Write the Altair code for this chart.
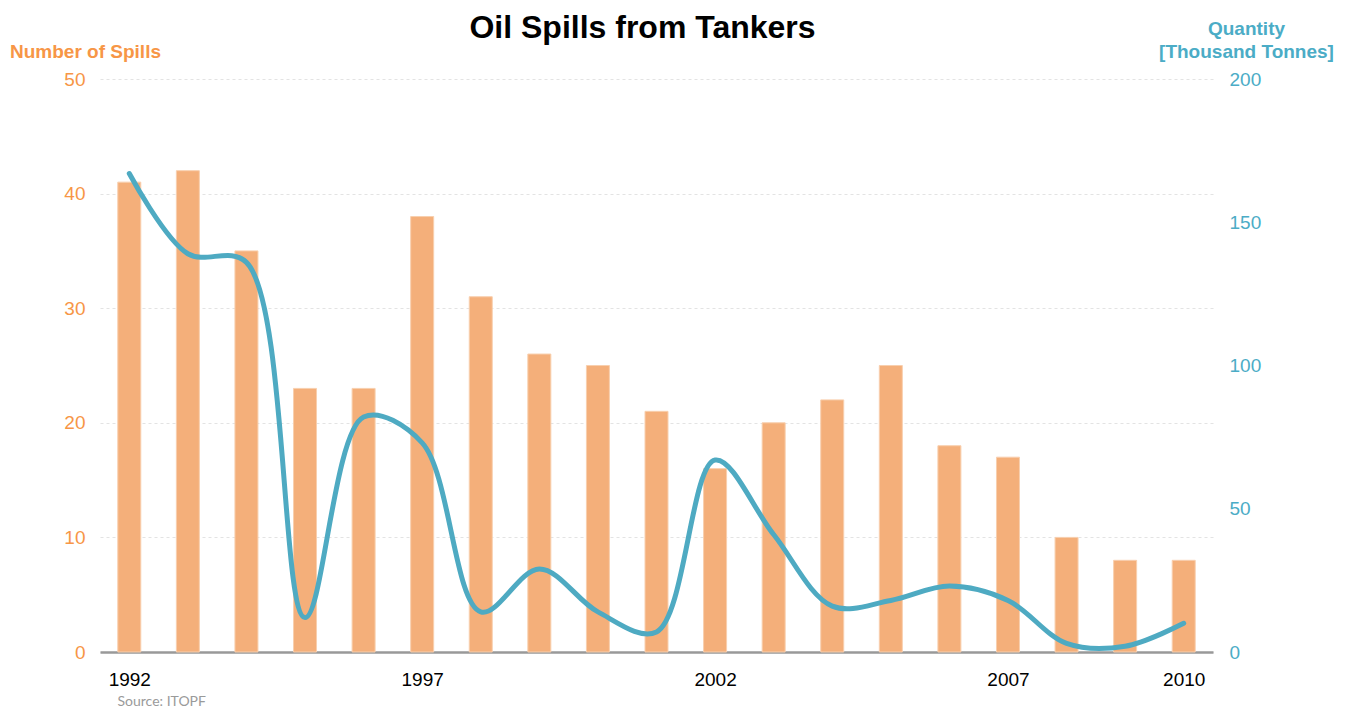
import altair as alt
import pandas as pd

years = list(range(1992, 2011))
spills = [41, 42, 35, 23, 23, 38, 31, 26, 25, 21, 16, 20, 22, 25, 18, 17, 10, 8, 8]
quantity = [167, 139, 136, 12, 82, 73, 14, 29, 14, 7, 67, 41, 16, 18, 23, 18, 3, 2, 10]
year_ticks = [1992, 1997, 2002, 2007, 2010]
spill_ticks = [0, 10, 20, 30, 40, 50]
qty_ticks = [0, 50, 100, 150, 200]

df = pd.DataFrame({"year": years, "spills": spills, "quantity": quantity})

ORANGE = "#f79646"
TEAL = "#4bacc6"
FONT = "Liberation Sans"

x_scale = alt.Scale(domain=[1991.5, 2010.5], nice=False, zero=False, padding=0)

x_enc = alt.X(
    "year:Q",
    scale=x_scale,
    axis=alt.Axis(
        values=year_ticks, format="d", labelColor="#000000", labelFontSize=19,
        labelFont=FONT, labelPadding=18, ticks=False, grid=False,
        domain=True, domainColor="#999999", domainWidth=2.5,
        title="Source: ITOPF", titleFont="Lato", titleFontSize=14,
        titleFontWeight="normal", titleColor="#9a9a9a", titleAnchor="start",
        titleAlign="left", titleX=17, titleY=53, titleBaseline="alphabetic",
    ),
)

bars = alt.Chart(df).mark_bar(
    size=23, color="#f4af7a", stroke="#f8cfae", strokeWidth=1
).encode(
    x=x_enc,
    y=alt.Y(
        "spills:Q",
        scale=alt.Scale(domain=[0, 50], nice=False),
        axis=alt.Axis(
            values=spill_ticks, orient="left", labelColor=ORANGE, labelFontSize=19,
            labelFont=FONT, labelPadding=15, ticks=False, domain=False,
            grid=True, gridColor="#e3e3e3", gridDash=[3, 3], gridWidth=1,
            title="Number of Spills", titleAngle=0, titleAlign="center",
            titleBaseline="alphabetic", titleX=-15, titleY=-22,
            titleColor=ORANGE, titleFont=FONT, titleFontSize=19, titleFontWeight="bold",
        ),
    ),
)

line = alt.Chart(df).mark_line(
    color="#4eaac2", strokeWidth=5, interpolate="catmull-rom", strokeCap="round"
).encode(
    x=alt.X("year:Q", scale=x_scale),
    y=alt.Y(
        "quantity:Q",
        scale=alt.Scale(domain=[0, 200], nice=False),
        axis=alt.Axis(
            values=qty_ticks, orient="right", labelColor=TEAL, labelFontSize=19,
            labelFont=FONT, labelPadding=16, ticks=False, domain=False, grid=False,
            title=["Quantity", "[Thousand Tonnes]"], titleAngle=0, titleAlign="center",
            titleBaseline="alphabetic", titleX=33, titleY=-45, titleLineHeight=23,
            titleColor=TEAL, titleFont=FONT, titleFontSize=19, titleFontWeight="bold",
        ),
    ),
)

chart = alt.layer(bars, line).resolve_scale(y="independent").properties(
    width=1113,
    height=573,
    title=alt.TitleParams(
        "Oil Spills from Tankers", font=FONT, fontSize=32, fontWeight="bold",
        color="#000000", anchor="middle", frame="group", dx=-14, dy=34, offset=8,
    ),
    autosize=alt.AutoSizeParams(type="none"),
    padding={"left": 92, "top": 71, "right": 127, "bottom": 56},
).configure_view(stroke=None)

chart.save("out.html", embed_options={"renderer": "svg", "actions": False})
